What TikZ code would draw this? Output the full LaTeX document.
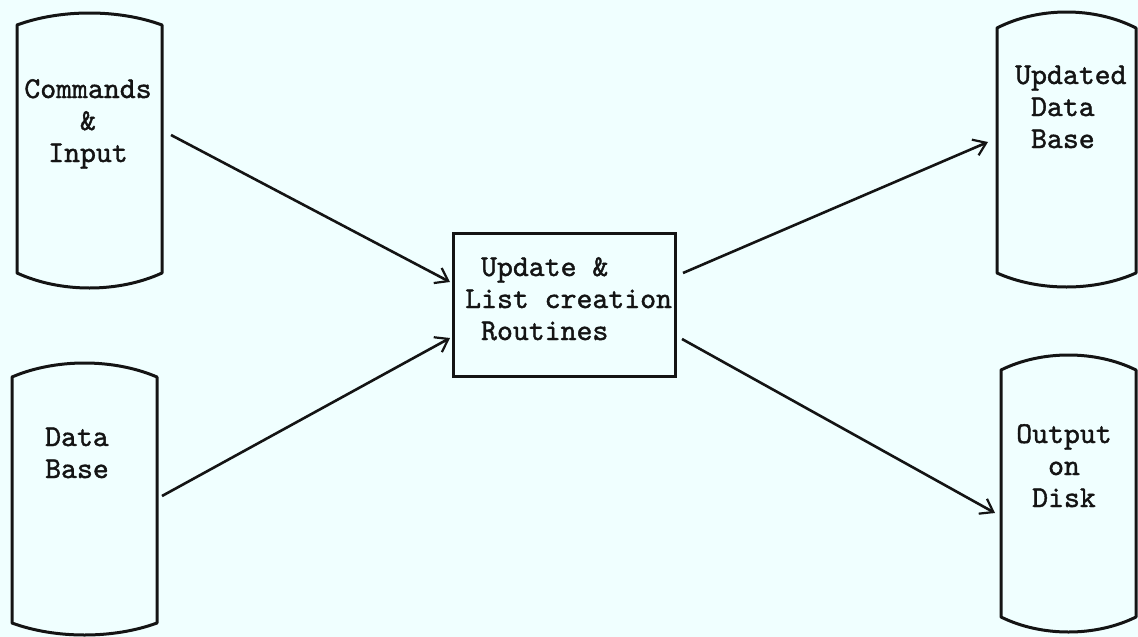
\documentclass[tikz,border=0pt]{standalone}
\usepackage{fontspec}
\usetikzlibrary{arrows.meta}
\newfontfamily\typewriter{lmmono10-regular.otf}[FakeBold=1.3]
\definecolor{paper}{RGB}{240,255,255}
\definecolor{ink}{RGB}{20,20,20}

% drum outline: left x, right x, top corner y, top crest y, bottom corner y, bottom crest y
\newcommand{\drumoutline}[6]{%
  \draw[drumline]
    (#1,#3) .. controls ({#1+(#2-#1)*0.3},{(4*#4-#3)/3}) and ({#2-(#2-#1)*0.3},{(4*#4-#3)/3}) .. (#2,#3)
    -- (#2,#5)
    .. controls ({#2-(#2-#1)*0.3},{(4*#6-#5)/3}) and ({#1+(#2-#1)*0.3},{(4*#6-#5)/3}) .. (#1,#5)
    -- cycle;}

\begin{document}
\begin{tikzpicture}[x=1pt,y=-1pt,
  drumline/.style={draw=ink,line width=3pt,line join=round},
  label/.style={font=\typewriter\fontsize{30.3}{32}\selectfont,text=ink,inner sep=0pt},
  routine/.style={draw=ink,line width=3pt,minimum width=222pt,minimum height=143pt,inner sep=0pt},
  flow/.style={draw=ink,line width=2.6pt,-{Straight Barb[length=12pt,width=17pt,line width=2.2pt]}}]
  \fill[paper] (0,0) rectangle (1138,637);
  \useasboundingbox (0,0) rectangle (1138,637);

  % storage drums
  \drumoutline{17}{162}{25}{13}{273}{288}
  \drumoutline{12}{157}{377}{363}{623}{635}
  \drumoutline{997}{1136}{28}{12}{273}{287}
  \drumoutline{1001}{1136}{370}{355}{617}{632}

  % drum labels (anchored at the baseline of their last line)
  \node[label,align=center,anchor=base] (cmd) at (88,162) {Commands\\\&\\Input};
  \node[label,align=left,anchor=base west] (db) at (45,478) {Data\\Base};
  \node[label,align=left,anchor=base west] (udb) at (1015,148) {Updated\\\hspace{15.9pt}Data\\\hspace{15.9pt}Base};
  \node[label,align=center,anchor=base] (out) at (1064,507) {Output\\on\\Disk};

  % processing box
  \node[routine] (proc) at (564,304.5) {};
  \node[label,align=left,anchor=base west] (proctext) at (465,340) {\hspace{15.9pt}Update \&\\List creation\\\hspace{15.9pt}Routines};

  % connector end points
  \coordinate (cmdout) at (171,135);
  \coordinate (dbout) at (162,496);
  \coordinate (procin1) at (450,282);
  \coordinate (procin2) at (450,338);
  \coordinate (procout1) at (683,273);
  \coordinate (procout2) at (682,339);
  \coordinate (udbin) at (988,142);
  \coordinate (outin) at (995,513);

  \draw[flow] (cmdout) -- (procin1);
  \draw[flow] (dbout) -- (procin2);
  \draw[flow] (procout1) -- (udbin);
  \draw[flow] (procout2) -- (outin);
\end{tikzpicture}
\end{document}
